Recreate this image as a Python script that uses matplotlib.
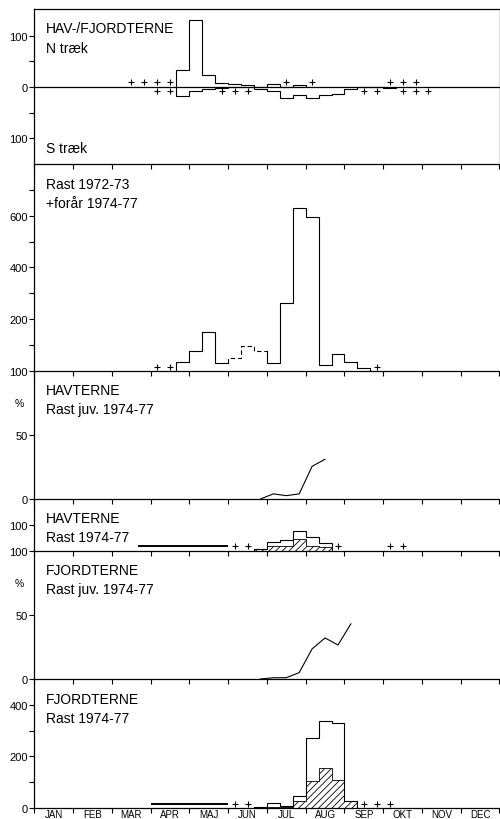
import numpy as np
import matplotlib.pyplot as plt

plt.rcParams['font.family'] = 'Liberation Sans'
plt.rcParams['hatch.linewidth'] = 0.6

# time axis in 10-day periods (dekads), 0 = 1-10 Jan, 36 per year
months = ['JAN', 'FEB', 'MAR', 'APR', 'MAJ', 'JUN', 'JUL', 'AUG', 'SEP', 'OKT', 'NOV', 'DEC']

# HAV-/FJORDTERNE, migration counts (N positive, S shown downwards)
n_start = 11
n_trek = [34, 130, 23, 8, 5, 3, 1, 6, 0, 4]
n_plus = [7, 8, 9, 10, 19, 21, 27, 28, 29]
s_start = 11
s_trek = [18, 7, 3, 1, 0, 0, 4, 8, 21, 15, 21, 15, 13, 3, 0, 0, 2]
s_plus = [9, 10, 14, 15, 16, 25, 26, 28, 29, 30]

# Rast 1972-73 + forår 1974-77
rast_start = 11
rast_7273 = [32, 77, 151, 29, 49, 97, 77, 31, 262, 630, 593, 22, 63, 32, 10]
rast_dashed = [15, 16, 17]
rast_plus = [9, 10, 26]

# HAVTERNE, juvenile share (%) and resting counts 1974-77
hav_juv_start = 17
hav_juv = [0, 4, 2.6, 4, 25.5, 31]
hav_start = 17
hav_total = [5, 32, 43, 78, 52, 29]
hav_young = [5, 19, 19, 45, 19, 13]
hav_spring = 19
hav_spring_span = (8, 15)
hav_plus = [15, 16, 23, 27, 28]

# FJORDTERNE, juvenile share (%) and resting counts 1974-77
fj_juv_start = 17
fj_juv = [0, 1, 1, 5, 23.5, 32, 26.5, 43]
fj_start = 17
fj_total = [5, 19, 8, 45, 270, 337, 331, 26]
fj_young = [3, 5, 5, 27, 106, 156, 109, 26]
fj_spring = 15
fj_spring_span = (9, 15)
fj_plus = [15, 16, 25, 26, 27]

W, H = 500, 820
fig = plt.figure(figsize=(W / 100, H / 100), dpi=100)
X0, X1 = 34.3, 499.5
TICK_FS = 8


def panel(top, bottom):
    ax = fig.add_axes([X0 / W, 1 - bottom / H, (X1 - X0) / W, (bottom - top) / H])
    ax.patch.set_alpha(0)
    ax.set_xlim(0, 36)
    ax.set_xticks(np.arange(0, 37, 3))
    ax.tick_params(axis='x', direction='out', length=3.5, width=0.8, labelbottom=False)
    ax.tick_params(axis='y', which='both', direction='out', length=3.5, width=0.8,
                   labelsize=TICK_FS, pad=1)
    ax.spines['top'].set_visible(False)
    ax.spines['right'].set_visible(False)
    for s in ax.spines.values():
        s.set_linewidth(0.9)
    return ax


def label(y, text, x=46, size=10):
    fig.text(x / W, 1 - y / H, text, fontsize=size, va='baseline', ha='left')


def step_xy(start, vals):
    edges = np.arange(start, start + len(vals) + 1)
    xs = np.repeat(edges, 2)
    ys = np.concatenate([[0], np.repeat(vals, 2), [0]])
    return xs, ys


def pluses(ax, dekads, level):
    d = np.asarray(dekads)
    ax.plot(d + 0.5, np.full(len(d), level), '+', color='k', ms=4.5, mew=0.8)


lw = 0.8

# --- panel 1: N / S træk
ax1 = panel(10, 165)
ax1.spines['top'].set_visible(True)
ax1.spines['right'].set_visible(True)
ax1.set_ylim(-150, 152)
ax1.axhline(0, color='k', lw=0.9)
ax1.stairs(n_trek, np.arange(n_start, n_start + len(n_trek) + 1), baseline=0, color='k', lw=lw)
ax1.stairs(-np.array(s_trek), np.arange(s_start, s_start + len(s_trek) + 1), baseline=0,
           color='k', lw=lw)
pluses(ax1, n_plus, 10)
pluses(ax1, s_plus, -7)
ax1.set_yticks([-100, 0, 100], ['100', '0', '100'])
ax1.set_yticks([-50, 50], minor=True)
label(33.3, 'HAV-/FJORDTERNE')
label(53.3, 'N træk')
label(153.3, 'S træk')

# --- panel 2: rast 1972-73
ax2 = panel(165, 371.7)
ax2.set_ylim(0, 800)
xs, ys = step_xy(rast_start, rast_7273)
k0 = 2 * (rast_dashed[0] - rast_start)
k1 = 2 * (rast_dashed[-1] + 1 - rast_start)
ax2.plot(xs[:k0 + 1], ys[:k0 + 1], color='k', lw=lw)
ax2.plot(xs[k0:k1 + 1], ys[k0:k1 + 1], color='k', lw=lw, ls=(0, (4, 2.5)))
ax2.plot(xs[k1:], ys[k1:], color='k', lw=lw)
pluses(ax2, rast_plus, 15)
ax2.set_yticks([200, 400, 600])
ax2.set_yticks([100, 300, 500, 700], minor=True)
label(189.3, 'Rast 1972-73')
label(208.3, '+forår 1974-77')

# --- panel 3: havterne juv %
ax3 = panel(371.7, 500)
ax3.set_ylim(0, 100)
ax3.plot(np.arange(hav_juv_start, hav_juv_start + len(hav_juv)) + 0.5, hav_juv, color='k', lw=lw)
ax3.set_yticks([0, 50, 100])
label(395, 'HAVTERNE')
label(414, 'Rast juv. 1974-77')
fig.text(19 / W, 1 - 404 / H, '%', fontsize=7.5, ha='center', va='center')

# --- panel 4: havterne rast
ax4 = panel(500, 551.7)
ax4.set_ylim(0, 200)
e = np.arange(hav_start, hav_start + len(hav_total) + 1)
ax4.stairs(hav_young, e, baseline=0, fill=True, facecolor='none', edgecolor='k',
           hatch='/////', lw=0.6)
ax4.stairs(hav_total, e, baseline=0, color='k', lw=lw)
ax4.hlines(hav_spring, *hav_spring_span, color='k', lw=1.4)
pluses(ax4, hav_plus, 17)
ax4.set_yticks([100])
label(523.3, 'HAVTERNE')
label(541.7, 'Rast 1974-77')

# --- panel 5: fjordterne juv %
ax5 = panel(551.7, 680)
ax5.set_ylim(0, 100)
ax5.plot(np.arange(fj_juv_start, fj_juv_start + len(fj_juv)) + 0.5, fj_juv, color='k', lw=lw)
ax5.set_yticks([0, 50, 100])
label(575, 'FJORDTERNE')
label(594, 'Rast juv. 1974-77')
fig.text(19 / W, 1 - 584 / H, '%', fontsize=7.5, ha='center', va='center')

# --- panel 6: fjordterne rast
ax6 = panel(680, 809)
ax6.set_ylim(0, 500)
e = np.arange(fj_start, fj_start + len(fj_total) + 1)
ax6.stairs(fj_young, e, baseline=0, fill=True, facecolor='none', edgecolor='k',
           hatch='/////', lw=0.6)
ax6.stairs(fj_total, e, baseline=0, color='k', lw=lw)
ax6.hlines(fj_spring, *fj_spring_span, color='k', lw=1.4)
pluses(ax6, fj_plus, 16)
ax6.set_yticks([0, 200, 400])
ax6.set_yticks([100, 300], minor=True)
ax6.set_xticks(np.arange(1.5, 36, 3), months, minor=True)
ax6.tick_params(axis='x', which='minor', length=0, labelbottom=True, labelsize=7, pad=0.5)
label(704, 'FJORDTERNE')
label(723.3, 'Rast 1974-77')

fig.savefig('out.png', dpi=100)
